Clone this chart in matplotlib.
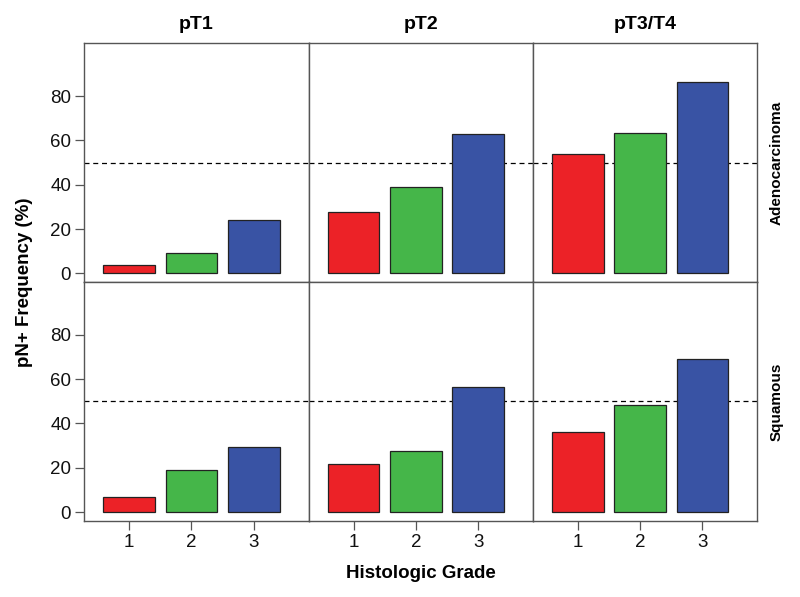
import matplotlib
matplotlib.use("Agg")
import matplotlib.pyplot as plt

plt.rcParams['font.family'] = ['Liberation Sans', 'DejaVu Sans']

grades = [1, 2, 3]
stages = ["pT1", "pT2", "pT3/T4"]
histologies = ["Adenocarcinoma", "Squamous"]
bar_colors = ["#EC2227", "#45B649", "#3953A4"]

# pN+ frequency (%) by histologic grade, one list per stage
adeno = [[3.6, 9.1, 23.9],
         [27.5, 38.9, 62.7],
         [54.0, 63.3, 86.2]]
squam = [[7.0, 19.1, 29.5],
         [21.9, 27.5, 56.3],
         [36.0, 48.2, 69.2]]
values = [adeno, squam]

fig, axes = plt.subplots(2, 3, figsize=(8.0, 5.97), dpi=100, sharex=True, sharey=True)
fig.subplots_adjust(left=0.1054, right=0.9466, top=0.9275, bottom=0.1278,
                    wspace=0, hspace=0)

for r in range(2):
    for c in range(3):
        ax = axes[r, c]
        ax.bar(grades, values[r][c], width=0.83, color=bar_colors,
               edgecolor="#222222", linewidth=0.9, zorder=3)
        ax.axhline(50, color="black", linestyle=(0, (4, 3)), linewidth=0.9, zorder=2)
        ax.set_xlim(0.28, 3.88)
        ax.set_ylim(-3.9, 103.8)
        for s in ax.spines.values():
            s.set_color("#555555")
            s.set_linewidth(1.0)
        ax.tick_params(axis="both", length=6.5, width=0.9, color="#555555",
                       labelsize=13.5, labelcolor="#111111", pad=3)
        ax.set_yticks([0, 20, 40, 60, 80])
        ax.set_xticks(grades)
        if c > 0:
            ax.tick_params(axis="y", left=False)
        if r == 0:
            ax.tick_params(axis="x", bottom=False)
            ax.set_title(stages[c], fontsize=14, fontweight="bold", pad=10)
        if c == 2:
            ax.text(1.085, 0.5, histologies[r], transform=ax.transAxes,
                    rotation=90, ha="center", va="center",
                    fontsize=11, fontweight="bold")

fig.text(0.031, 0.527, "pN+ Frequency (%)", rotation=90, ha="center", va="center",
         fontsize=13.5, fontweight="bold")
fig.text(0.526, 0.04, "Histologic Grade", ha="center", va="center",
         fontsize=13.5, fontweight="bold")

fig.savefig("out.png", dpi=100)
